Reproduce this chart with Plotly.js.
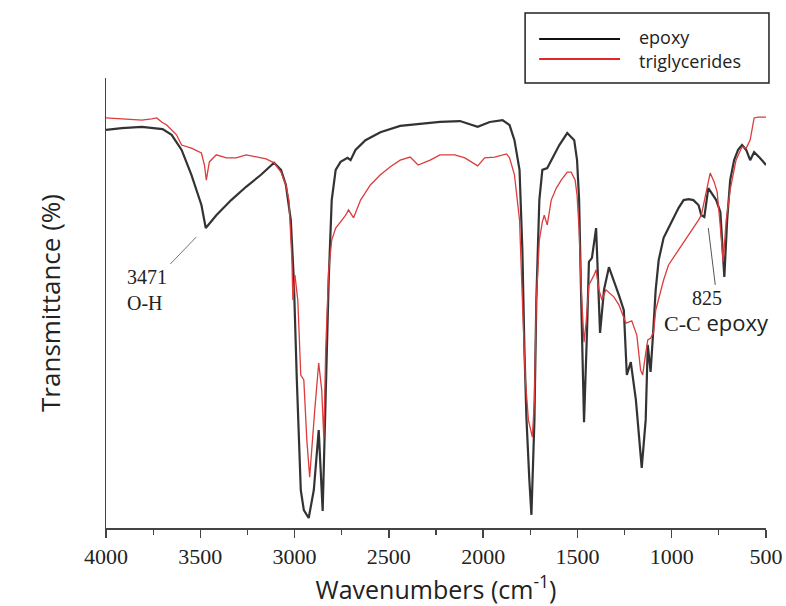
<!DOCTYPE html>
<html>
<head>
<meta charset="utf-8">
<script src="https://cdn.plot.ly/plotly-3.0.1.min.js"></script>
<style>html,body{margin:0;padding:0;background:#fff;}#chart{width:786px;height:606px;}</style>
</head>
<body>
<div id="chart"></div>
<script>
// Wavenumbers (cm^-1) and transmittance (arbitrary %)
const epoxyWn = [4000,3916,3810,3700,3652,3599,3547,3494,3471,3415,3336,3257,3178,3109,3072,3046,3020,3004,2988,2977,2967,2951,2925,2898,2872,2851,2835,2819,2803,2782,2756,2719,2703,2677,2624,2545,2440,2334,2229,2123,2029,1965,1897,1860,1834,1807,1792,1781,1770,1755,1744,1728,1718,1702,1686,1660,1639,1596,1554,1517,1502,1491,1480,1465,1449,1439,1423,1401,1380,1359,1333,1307,1280,1254,1238,1217,1190,1159,1138,1127,1112,1101,1085,1069,1043,1017,990,964,937,911,885,858,843,827,806,779,764,742,732,721,706,690,669,648,627,605,584,563,532,500];
const epoxyT = [88.3,88.7,89.0,88.5,87.2,83.8,78.2,71.4,66.2,69.1,72.5,75.5,78.2,80.9,79.3,75.9,68.0,54.5,32.0,16.2,7.2,2.7,0.9,7.2,20.7,2.5,27.5,54.5,72.5,79.3,81.1,82.0,81.5,83.8,86.0,87.8,89.2,89.6,90.1,90.3,89.0,90.1,90.5,89.4,86.0,79.3,61.3,38.7,23.0,9.5,1.6,23.0,50.0,72.5,79.3,79.7,81.5,84.9,87.6,86.0,81.5,72.5,50.0,22.5,43.2,58.6,59.5,66.2,42.6,52.3,57.4,54.5,51.1,47.7,33.1,36.0,27.5,12.2,23.0,39.9,33.8,41.0,52.3,59.0,64.0,66.2,68.5,70.7,72.5,72.7,72.5,71.4,69.1,68.7,75.2,73.6,72.5,69.8,62.4,55.2,68.0,77.0,81.5,83.8,84.9,83.8,81.5,83.3,82.0,80.4];

const trigWn = [4000,3916,3810,3758,3731,3705,3678,3626,3599,3547,3494,3478,3468,3452,3415,3362,3310,3257,3204,3151,3109,3072,3046,3030,3014,3009,2998,2983,2967,2951,2935,2920,2893,2872,2856,2845,2835,2819,2803,2782,2756,2729,2714,2687,2650,2598,2545,2492,2440,2387,2345,2281,2229,2150,2097,2029,1992,1939,1876,1860,1834,1807,1792,1776,1760,1739,1728,1718,1702,1686,1676,1660,1639,1612,1586,1554,1533,1512,1502,1491,1480,1465,1454,1439,1412,1401,1386,1370,1349,1307,1280,1243,1212,1185,1165,1154,1143,1127,1112,1096,1085,1069,1043,1017,964,911,858,843,817,796,775,759,743,727,711,690,659,627,605,584,563,542,500];
const trigT = [91.0,90.8,90.5,90.8,91.0,90.1,89.4,87.2,84.9,84.2,83.1,80.4,77.0,81.1,82.7,82.0,82.0,82.7,82.2,81.8,80.9,78.8,75.9,72.5,59.0,50.0,55.6,50.0,33.1,32.0,18.5,10.1,25.2,35.8,29.7,18.9,38.7,56.8,63.5,66.2,67.6,69.1,70.3,68.5,72.5,75.9,78.2,80.0,81.5,82.2,80.4,81.5,82.7,82.7,82.0,80.2,82.0,82.2,82.9,82.0,78.2,68.0,50.0,32.0,23.0,19.1,27.5,50.0,63.5,67.6,69.1,66.9,72.5,75.2,77.0,78.8,78.8,77.0,73.6,65.8,52.5,40.5,45.0,53.4,55.6,56.8,52.3,50.0,52.3,50.7,48.9,44.8,45.3,42.1,34.2,33.1,36.5,41.0,41.4,42.8,47.7,50.5,54.5,57.9,61.3,64.4,68.0,69.1,74.8,78.6,76.6,74.3,66.9,58.6,68.0,74.8,81.5,84.5,84.2,86.0,91.0,91.2,91.2];

const seriesNames = ['epoxy', 'triglycerides'];
const seriesColors = ['#333333', '#dc3c3c'];
const tickVals = [4000,3500,3000,2500,2000,1500,1000,500];
const tickText = ['4000','3500','3000','2500','2000','1500','1000','500'];

// Peak labels
const ohLabel = {text: '3471<br>O-H', x: 3898, y: 58.2, lx0: 3659, ly0: 58.1, lx1: 3521, ly1: 64.2};
const ccLabel = {num: '825', x: 812, y: 50.5, sub: 'C-C', word: 'epoxy', sx: 763, sy: 45.0, lx0: 806, ly0: 66.2, lx1: 769, ly1: 53.4};

const serif = 'Liberation Serif';
const sans = 'Open Sans';

const traces = [
  {x: epoxyWn, y: epoxyT, type: 'scatter', mode: 'lines', name: seriesNames[0],
   line: {color: seriesColors[0], width: 2.2}},
  {x: trigWn, y: trigT, type: 'scatter', mode: 'lines', name: seriesNames[1],
   line: {color: seriesColors[1], width: 1.3}}
];

// legend frame (paper coordinates)
const lg = {x0: 0.635, x1: 1.0045, y0: 0.989, y1: 1.1444, sx0: 0.6563, sx1: 0.7788, tx: 0.8061,
            rows: [1.0867, 1.0422], textRows: [1.0911, 1.0378]};

const shapes = [
  {type: 'line', xref: 'x', yref: 'y', x0: ohLabel.lx0, y0: ohLabel.ly0, x1: ohLabel.lx1, y1: ohLabel.ly1,
   line: {color: '#777777', width: 1}},
  {type: 'line', xref: 'x', yref: 'y', x0: ccLabel.lx0, y0: ccLabel.ly0, x1: ccLabel.lx1, y1: ccLabel.ly1,
   line: {color: '#555555', width: 1}},
  {type: 'rect', xref: 'paper', yref: 'paper', x0: lg.x0, x1: lg.x1, y0: lg.y0, y1: lg.y1,
   line: {color: '#222222', width: 1.5}, fillcolor: 'rgba(0,0,0,0)'}
];
const annotations = [
  {x: ohLabel.x, y: ohLabel.y, xref: 'x', yref: 'y', text: ohLabel.text, showarrow: false,
   xanchor: 'left', yanchor: 'top', align: 'left',
   font: {family: serif, size: 20, color: '#222222'}},
  {x: ccLabel.x, y: ccLabel.y, xref: 'x', yref: 'y', text: ccLabel.num, showarrow: false,
   xanchor: 'center', yanchor: 'middle',
   font: {family: serif, size: 20, color: '#222222'}},
  {x: ccLabel.sx, y: ccLabel.sy, xref: 'x', yref: 'y',
   text: '<span style="font-family:Liberation Serif">' + ccLabel.sub + '</span> ' + ccLabel.word,
   showarrow: false, xanchor: 'center', yanchor: 'middle',
   font: {family: sans, size: 22, color: '#222222'}}
];
seriesNames.forEach((nm, i) => {
  shapes.push({type: 'line', xref: 'paper', yref: 'paper', x0: lg.sx0, x1: lg.sx1, y0: lg.rows[i], y1: lg.rows[i],
               line: {color: i === 0 ? '#111111' : '#e02828', width: 2}});
  annotations.push({x: lg.tx, y: lg.textRows[i], xref: 'paper', yref: 'paper', text: nm, showarrow: false,
                    xanchor: 'left', yanchor: 'middle', borderpad: 0,
                    font: {family: sans, size: 18, color: '#222222'}});
});

const layout = {
  width: 786, height: 606,
  margin: {l: 106, r: 20, t: 78, b: 78},
  paper_bgcolor: '#ffffff', plot_bgcolor: '#ffffff',
  font: {family: serif, size: 22, color: '#222222'},
  showlegend: false,
  xaxis: {
    range: [4000, 500], showgrid: false, zeroline: false,
    showline: true, linecolor: '#444444', linewidth: 1.5,
    tickmode: 'array', tickvals: tickVals, ticktext: tickText,
    ticks: 'outside', ticklen: 8, tickwidth: 1.5, tickcolor: '#444444',
    minor: {dtick: 250, tick0: 0, ticks: 'outside', ticklen: 5, tickwidth: 1.2, tickcolor: '#444444'},
    tickfont: {family: serif, size: 22, color: '#222222'},
    title: {text: 'Wavenumbers (cm<sup>-1</sup>)', font: {family: sans, size: 25, color: '#222222'}, standoff: 17}
  },
  yaxis: {
    range: [-1.35, 100], showgrid: false, zeroline: false,
    showline: true, linecolor: '#444444', linewidth: 1.5,
    showticklabels: false, ticks: '',
    title: {text: 'Transmittance (%)', font: {family: sans, size: 26, color: '#222222'}, standoff: 36}
  },
  shapes: shapes,
  annotations: annotations
};

Plotly.newPlot('chart', traces, layout, {displayModeBar: false, staticPlot: true});
</script>
</body>
</html>
